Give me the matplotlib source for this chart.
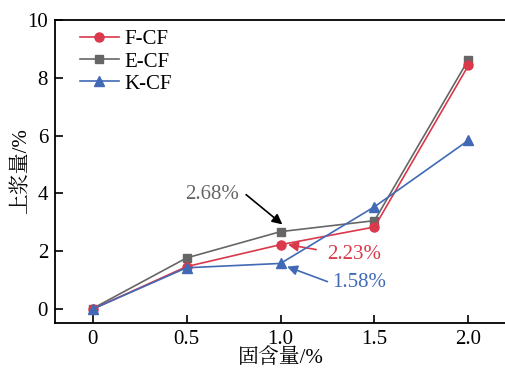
import matplotlib
matplotlib.use("Agg")
import matplotlib.pyplot as plt

plt.rcParams['font.family'] = ['Liberation Serif', 'Noto Serif CJK SC', 'Noto Sans CJK SC']
plt.rcParams['mathtext.fontset'] = 'stix'

solid_content = [0, 0.5, 1.0, 1.5, 2.0]
f_cf = [0.0, 1.47, 2.23, 2.84, 8.43]
e_cf = [0.02, 1.77, 2.68, 3.06, 8.63]
k_cf = [0.0, 1.43, 1.58, 3.54, 5.84]
x_ticks = [0, 0.5, 1.0, 1.5, 2.0]
x_tick_labels = ['0', '0.5', '1.0', '1.5', '2.0']
y_ticks = [0, 2, 4, 6, 8, 10]

red = '#d9394a'
gray = '#666666'
blue = '#4169b5'

fig = plt.figure(figsize=(5.06, 3.71), dpi=100)
ax = fig.add_axes([0.1087, 0.1294, 0.8913, 0.8166])

ax.plot(solid_content, f_cf, color=red, marker='o', ms=6.5, lw=1.2, label='F-CF', zorder=4)
ax.plot(solid_content, e_cf, color=gray, marker='s', ms=6, lw=1.2, label='E-CF', zorder=3)
ax.plot(solid_content, k_cf, color=blue, marker='^', ms=7, lw=1.2, label='K-CF', zorder=5)

ax.set_xlim(-0.2, 2.2)
ax.set_ylim(-0.48, 10)
ax.set_xticks(x_ticks)
ax.set_xticklabels(x_tick_labels)
ax.set_yticks(y_ticks)
ax.tick_params(direction='in', length=6, width=1.2, labelsize=15)
ax.tick_params(axis='x', pad=5)
ax.tick_params(axis='y', pad=5)
for side in ['left', 'bottom', 'top']:
    ax.spines[side].set_linewidth(1.3)
ax.spines['right'].set_visible(False)

ax.set_xlabel('固含量/%', fontsize=15, labelpad=-0.5)
ax.set_ylabel('上浆量/%', fontsize=15, labelpad=-3)

ax.legend(loc='upper left', frameon=False, fontsize=15, handlelength=1.85,
          handletextpad=0.3, labelspacing=0.12, borderaxespad=0.0,
          bbox_to_anchor=(0.037, 0.995))

# Value callouts at 1.0 % solid content
ax.text(0.78, 3.96, '2.68%', color=gray, fontsize=15, ha='right', va='center')
ax.annotate('', xy=(1.01, 2.93), xytext=(0.817, 3.96),
            arrowprops=dict(arrowstyle='-|>', color='black', lw=1.2,
                            shrinkA=0, shrinkB=0, mutation_scale=15))
ax.text(1.247, 1.89, '2.23%', color=red, fontsize=15, ha='left', va='center')
ax.annotate('', xy=(1.04, 2.23), xytext=(1.19, 2.06),
            arrowprops=dict(arrowstyle='-|>', color=red, lw=1.2,
                            shrinkA=0, shrinkB=0, mutation_scale=15))
ax.text(1.273, 0.92, '1.58%', color=blue, fontsize=15, ha='left', va='center')
ax.annotate('', xy=(1.035, 1.47), xytext=(1.25, 0.95),
            arrowprops=dict(arrowstyle='-|>', color=blue, lw=1.2,
                            shrinkA=0, shrinkB=0, mutation_scale=15))

fig.savefig('out.png', dpi=100)
